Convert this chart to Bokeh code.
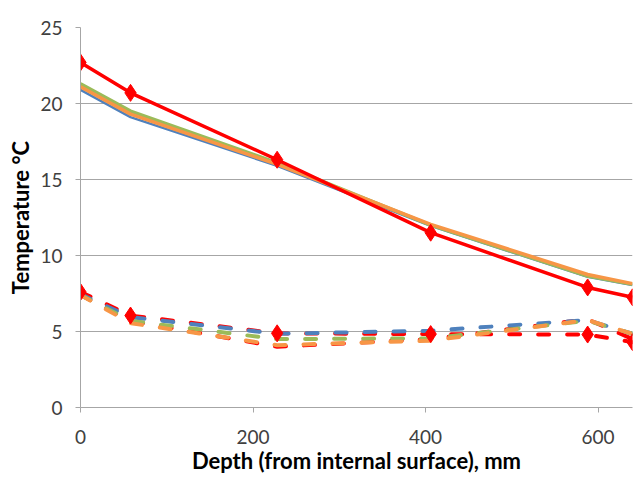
from bokeh.plotting import figure
from bokeh.models import Range1d, FixedTicker
from bokeh.embed import file_html
from bokeh.resources import INLINE

# depth positions (mm)
depth = [0, 58, 228, 406, 588, 640]

# solid lines (internal layer)
meas_solid = [22.7, 20.7, 16.3, 11.5, 7.9, 7.25]
blue_solid = [20.9, 19.1, 15.9, 11.95, 8.6, 8.05]
green_solid = [21.3, 19.5, 16.1, 12.0, 8.65, 8.1]
orange_solid = [21.1, 19.3, 16.0, 12.05, 8.75, 8.15]

# dashed lines
meas_dash = [7.6, 6.05, 4.88, 4.83, 4.8, 4.3]
red_dash = [7.4, 5.7, 4.0, 4.5, 5.8, 4.5]
blue_dash = [7.45, 5.95, 4.85, 5.05, 5.75, 4.85]
green_dash = [7.4, 5.7, 4.5, 4.55, 5.7, 4.85]
orange_dash = [7.4, 5.55, 4.1, 4.4, 5.75, 4.85]

y_ticks = [0, 5, 10, 15, 20, 25]
x_ticks = [0, 200, 400, 600]

BLUE = "#4F81BD"
ORANGE = "#F79646"
GREEN = "#9BBB59"
RED = "#FF0000"
GRAY = "#A6A6A6"
TXT = "#404040"
FONT = "Lato"

p = figure(width=636, height=476, output_backend="svg", toolbar_location=None,
           x_range=Range1d(0, 640), y_range=Range1d(0, 25),
           min_border_left=80, min_border_right=4, min_border_top=27, min_border_bottom=69)
p.outline_line_color = None
p.background_fill_color = "white"
p.border_fill_color = "white"

# grids
p.xgrid.visible = False
p.ygrid.ticker = FixedTicker(ticks=[5, 10, 15, 20])
p.ygrid.grid_line_color = GRAY
p.ygrid.grid_line_width = 1

for ax, ticks in ((p.xaxis[0], x_ticks), (p.yaxis[0], y_ticks)):
    ax.ticker = FixedTicker(ticks=ticks)
    ax.axis_line_color = GRAY
    ax.major_tick_line_color = GRAY
    ax.major_tick_out = 5
    ax.major_tick_in = 0
    ax.minor_tick_line_color = None
    ax.major_label_text_font = FONT
    ax.major_label_text_font_size = "19px"
    ax.major_label_text_color = TXT
    ax.axis_label_text_font = FONT
    ax.axis_label_text_font_style = "bold"
    ax.axis_label_text_font_size = "22px"
    ax.axis_label_text_color = "black"

p.xaxis.axis_label = "Depth (from internal surface), mm"
p.xaxis.major_label_standoff = 17
p.xaxis.axis_label_standoff = 0
p.yaxis.axis_label = "Temperature °C"
p.yaxis.major_label_standoff = 13
p.yaxis.axis_label_standoff = 3

dash = "11 18"
# dashed series
p.line(depth, meas_dash, line_color=RED, line_width=4, line_dash=dash, line_cap="round")
p.line(depth, red_dash, line_color=RED, line_width=4, line_dash=dash, line_cap="round")
p.line(depth, blue_dash, line_color=BLUE, line_width=4, line_dash=dash, line_cap="round")
p.line(depth, green_dash, line_color=GREEN, line_width=4, line_dash=dash, line_cap="round")
p.line(depth, orange_dash, line_color=ORANGE, line_width=4, line_dash=dash, line_cap="round")
p.scatter(depth, meas_dash, marker="diamond", size=17, fill_color=RED, line_color=RED)

# solid series
p.line(depth, blue_solid, line_color=BLUE, line_width=2.5)
p.line(depth, green_solid, line_color=GREEN, line_width=3.5)
p.line(depth, orange_solid, line_color=ORANGE, line_width=3.5)
p.line(depth, meas_solid, line_color=RED, line_width=3.5)
p.scatter(depth, meas_solid, marker="diamond", size=17, fill_color=RED, line_color=RED)

open("out.html", "w").write(file_html(p, INLINE))
